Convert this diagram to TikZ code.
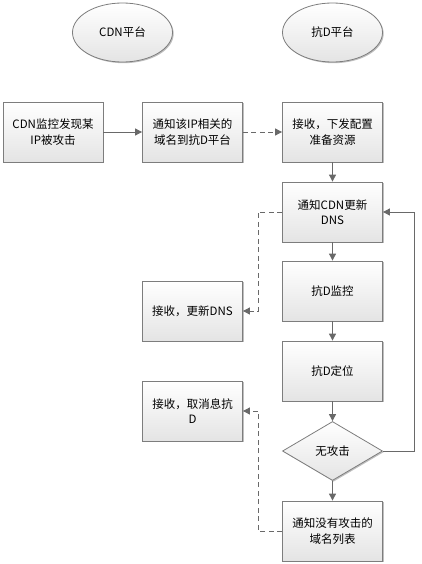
\documentclass[tikz,border=0pt]{standalone}
\usepackage{fontspec}
\setmainfont{Noto Sans CJK SC}
\usetikzlibrary{shapes.geometric,arrows.meta,shadows}
\definecolor{bordc}{RGB}{125,125,125}
\definecolor{linec}{RGB}{105,105,105}
\definecolor{shadc}{RGB}{228,228,228}
\begin{document}
\begin{tikzpicture}[x=1pt,y=-1pt,
  font=\fontsize{11.5}{15.5}\selectfont,
  base/.style={draw=bordc,line width=0.8pt,top color=white,bottom color=shadc,
    drop shadow={shadow xshift=1.2pt,shadow yshift=-1.2pt,opacity=0.25,fill=black},
    align=center,inner sep=2pt},
  boxn/.style={base,rectangle,minimum width=100pt,minimum height=60pt,text width=92pt},
  ell/.style={base,ellipse,minimum width=100pt,minimum height=59pt},
  dia/.style={base,diamond,minimum width=100pt,minimum height=59pt,inner sep=0pt},
  arr/.style={draw=linec,line width=0.9pt,-{Triangle[length=7pt,width=7pt]}},
  darr/.style={arr,dash pattern=on 5pt off 3.5pt},
]
\useasboundingbox (0,0) rectangle (421,564);
\node[ell] (e1) at (122.5,32.5) {CDN平台};
\node[ell] (e2) at (332.5,32.5) {抗D平台};
\node[boxn] (b1) at (53,132) {CDN监控发现某\\IP被攻击};
\node[boxn] (b2) at (192.5,132) {通知该IP相关的\\域名到抗D平台};
\node[boxn] (b3) at (332.5,132) {接收，下发配置\\准备资源};
\node[boxn] (b4) at (332.5,212) {通知CDN更新\\DNS};
\node[boxn] (b5) at (332.5,291) {抗D监控};
\node[boxn] (b6) at (332.5,371) {抗D定位};
\node[dia] (d) at (332.5,451) {无攻击};
\node[boxn] (b7) at (332.5,531) {通知没有攻击的\\域名列表};
\node[boxn] (l1) at (192.5,311) {接收，更新DNS};
\node[boxn] (l2) at (192.5,411) {接收，取消息抗\\D};
\coordinate (lc) at (414,0);
\coordinate (dc) at (258,0);
\draw[arr] (b1.east) -- (b2.west);
\draw[darr] (b2.east) -- (b3.west);
\draw[arr] (b3.south) -- (b4.north);
\draw[arr] (b4.south) -- (b5.north);
\draw[arr] (b5.south) -- (b6.north);
\draw[arr] (b6.south) -- (d.north);
\draw[arr] (d.south) -- (b7.north);
\draw[arr] (d.east) -- (d.east -| lc) -- (b4.east -| lc) -- (b4.east);
\draw[darr] (b4.west) -- (b4.west -| dc) -- (l1.east -| dc) -- (l1.east);
\draw[darr] (b7.west) -- (b7.west -| dc) -- (l2.east -| dc) -- (l2.east);
\end{tikzpicture}
\end{document}
